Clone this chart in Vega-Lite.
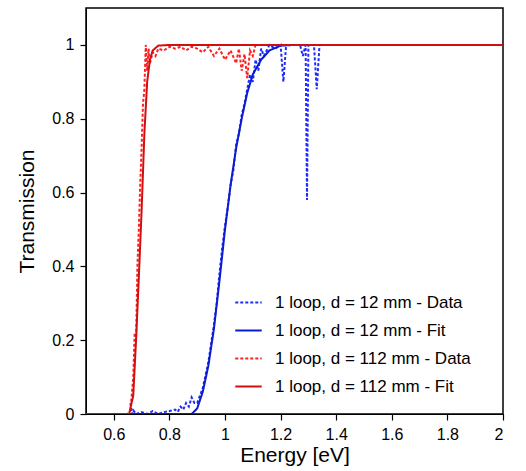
{
  "$schema": "https://vega.github.io/schema/vega-lite/v6.json",
  "width": 417,
  "height": 406,
  "autosize": {"type": "none"},
  "padding": {"left": 86, "top": 8, "right": 23, "bottom": 57},
  "background": "white",
  "config": {
    "view": {"stroke": "black", "strokeWidth": 1.5},
    "font": "Liberation Sans",
    "axis": {
      "grid": false, "domainColor": "black", "tickColor": "black", "tickSize": 6, "tickWidth": 1.2,
      "labelFont": "Liberation Sans", "labelFontSize": 16, "labelColor": "black", "labelPadding": 6,
      "titleFont": "Liberation Sans", "titleFontSize": 21, "titleFontWeight": "normal", "titleColor": "black"
    }
  },
  "data": {"values": [
    {"s": "1 loop, d = 12 mm - Data", "x": 0.66, "y": 0.03},
    {"s": "1 loop, d = 12 mm - Data", "x": 0.665, "y": 0.0},
    {"s": "1 loop, d = 12 mm - Data", "x": 0.67, "y": 0.01},
    {"s": "1 loop, d = 12 mm - Data", "x": 0.68, "y": 0},
    {"s": "1 loop, d = 12 mm - Data", "x": 0.70, "y": 0.005},
    {"s": "1 loop, d = 12 mm - Data", "x": 0.72, "y": 0},
    {"s": "1 loop, d = 12 mm - Data", "x": 0.74, "y": 0.008},
    {"s": "1 loop, d = 12 mm - Data", "x": 0.76, "y": 0},
    {"s": "1 loop, d = 12 mm - Data", "x": 0.78, "y": 0.005},
    {"s": "1 loop, d = 12 mm - Data", "x": 0.80, "y": 0.008},
    {"s": "1 loop, d = 12 mm - Data", "x": 0.82, "y": 0.012},
    {"s": "1 loop, d = 12 mm - Data", "x": 0.83, "y": 0.006},
    {"s": "1 loop, d = 12 mm - Data", "x": 0.84, "y": 0.02},
    {"s": "1 loop, d = 12 mm - Data", "x": 0.85, "y": 0.012},
    {"s": "1 loop, d = 12 mm - Data", "x": 0.86, "y": 0.03},
    {"s": "1 loop, d = 12 mm - Data", "x": 0.87, "y": 0.02},
    {"s": "1 loop, d = 12 mm - Data", "x": 0.88, "y": 0.045},
    {"s": "1 loop, d = 12 mm - Data", "x": 0.89, "y": 0.03},
    {"s": "1 loop, d = 12 mm - Data", "x": 0.90, "y": 0.03},
    {"s": "1 loop, d = 12 mm - Data", "x": 0.92, "y": 0.07},
    {"s": "1 loop, d = 12 mm - Data", "x": 0.94, "y": 0.14},
    {"s": "1 loop, d = 12 mm - Data", "x": 0.96, "y": 0.24},
    {"s": "1 loop, d = 12 mm - Data", "x": 0.97, "y": 0.3},
    {"s": "1 loop, d = 12 mm - Data", "x": 0.98, "y": 0.38},
    {"s": "1 loop, d = 12 mm - Data", "x": 0.99, "y": 0.45},
    {"s": "1 loop, d = 12 mm - Data", "x": 1.0, "y": 0.51},
    {"s": "1 loop, d = 12 mm - Data", "x": 1.01, "y": 0.56},
    {"s": "1 loop, d = 12 mm - Data", "x": 1.02, "y": 0.62},
    {"s": "1 loop, d = 12 mm - Data", "x": 1.03, "y": 0.66},
    {"s": "1 loop, d = 12 mm - Data", "x": 1.04, "y": 0.73},
    {"s": "1 loop, d = 12 mm - Data", "x": 1.05, "y": 0.76},
    {"s": "1 loop, d = 12 mm - Data", "x": 1.06, "y": 0.81},
    {"s": "1 loop, d = 12 mm - Data", "x": 1.07, "y": 0.84},
    {"s": "1 loop, d = 12 mm - Data", "x": 1.08, "y": 0.88},
    {"s": "1 loop, d = 12 mm - Data", "x": 1.09, "y": 0.92},
    {"s": "1 loop, d = 12 mm - Data", "x": 1.10, "y": 0.9},
    {"s": "1 loop, d = 12 mm - Data", "x": 1.11, "y": 0.96},
    {"s": "1 loop, d = 12 mm - Data", "x": 1.12, "y": 0.93},
    {"s": "1 loop, d = 12 mm - Data", "x": 1.13, "y": 0.99},
    {"s": "1 loop, d = 12 mm - Data", "x": 1.14, "y": 0.97},
    {"s": "1 loop, d = 12 mm - Data", "x": 1.16, "y": 1},
    {"s": "1 loop, d = 12 mm - Data", "x": 1.18, "y": 0.99},
    {"s": "1 loop, d = 12 mm - Data", "x": 1.20, "y": 1},
    {"s": "1 loop, d = 12 mm - Data", "x": 1.21, "y": 0.9},
    {"s": "1 loop, d = 12 mm - Data", "x": 1.22, "y": 1},
    {"s": "1 loop, d = 12 mm - Data", "x": 1.27, "y": 1},
    {"s": "1 loop, d = 12 mm - Data", "x": 1.28, "y": 0.97},
    {"s": "1 loop, d = 12 mm - Data", "x": 1.29, "y": 1},
    {"s": "1 loop, d = 12 mm - Data", "x": 1.295, "y": 0.58},
    {"s": "1 loop, d = 12 mm - Data", "x": 1.30, "y": 1},
    {"s": "1 loop, d = 12 mm - Data", "x": 1.32, "y": 1},
    {"s": "1 loop, d = 12 mm - Data", "x": 1.33, "y": 0.88},
    {"s": "1 loop, d = 12 mm - Data", "x": 1.34, "y": 1},
    {"s": "1 loop, d = 12 mm - Data", "x": 2.0, "y": 1},

    {"s": "1 loop, d = 12 mm - Fit", "x": 0.5, "y": 0},
    {"s": "1 loop, d = 12 mm - Fit", "x": 0.88, "y": 0},
    {"s": "1 loop, d = 12 mm - Fit", "x": 0.9, "y": 0.015},
    {"s": "1 loop, d = 12 mm - Fit", "x": 0.92, "y": 0.06},
    {"s": "1 loop, d = 12 mm - Fit", "x": 0.94, "y": 0.13},
    {"s": "1 loop, d = 12 mm - Fit", "x": 0.96, "y": 0.23},
    {"s": "1 loop, d = 12 mm - Fit", "x": 0.98, "y": 0.36},
    {"s": "1 loop, d = 12 mm - Fit", "x": 1.0, "y": 0.5},
    {"s": "1 loop, d = 12 mm - Fit", "x": 1.02, "y": 0.62},
    {"s": "1 loop, d = 12 mm - Fit", "x": 1.04, "y": 0.72},
    {"s": "1 loop, d = 12 mm - Fit", "x": 1.06, "y": 0.8},
    {"s": "1 loop, d = 12 mm - Fit", "x": 1.08, "y": 0.87},
    {"s": "1 loop, d = 12 mm - Fit", "x": 1.10, "y": 0.92},
    {"s": "1 loop, d = 12 mm - Fit", "x": 1.13, "y": 0.96},
    {"s": "1 loop, d = 12 mm - Fit", "x": 1.16, "y": 0.985},
    {"s": "1 loop, d = 12 mm - Fit", "x": 1.2, "y": 0.998},
    {"s": "1 loop, d = 12 mm - Fit", "x": 1.25, "y": 1},
    {"s": "1 loop, d = 12 mm - Fit", "x": 2.0, "y": 1},

    {"s": "1 loop, d = 112 mm - Data", "x": 0.5, "y": 0},
    {"s": "1 loop, d = 112 mm - Data", "x": 0.65, "y": 0},
    {"s": "1 loop, d = 112 mm - Data", "x": 0.66, "y": 0.01},
    {"s": "1 loop, d = 112 mm - Data", "x": 0.67, "y": 0.1},
    {"s": "1 loop, d = 112 mm - Data", "x": 0.675, "y": 0.22},
    {"s": "1 loop, d = 112 mm - Data", "x": 0.68, "y": 0.2},
    {"s": "1 loop, d = 112 mm - Data", "x": 0.685, "y": 0.4},
    {"s": "1 loop, d = 112 mm - Data", "x": 0.69, "y": 0.5},
    {"s": "1 loop, d = 112 mm - Data", "x": 0.695, "y": 0.62},
    {"s": "1 loop, d = 112 mm - Data", "x": 0.70, "y": 0.72},
    {"s": "1 loop, d = 112 mm - Data", "x": 0.705, "y": 0.84},
    {"s": "1 loop, d = 112 mm - Data", "x": 0.71, "y": 0.88},
    {"s": "1 loop, d = 112 mm - Data", "x": 0.715, "y": 1.0},
    {"s": "1 loop, d = 112 mm - Data", "x": 0.72, "y": 0.93},
    {"s": "1 loop, d = 112 mm - Data", "x": 0.725, "y": 0.99},
    {"s": "1 loop, d = 112 mm - Data", "x": 0.73, "y": 0.95},
    {"s": "1 loop, d = 112 mm - Data", "x": 0.74, "y": 0.98},
    {"s": "1 loop, d = 112 mm - Data", "x": 0.75, "y": 0.97},
    {"s": "1 loop, d = 112 mm - Data", "x": 0.76, "y": 0.99},
    {"s": "1 loop, d = 112 mm - Data", "x": 0.78, "y": 0.985},
    {"s": "1 loop, d = 112 mm - Data", "x": 0.80, "y": 0.995},
    {"s": "1 loop, d = 112 mm - Data", "x": 0.82, "y": 0.99},
    {"s": "1 loop, d = 112 mm - Data", "x": 0.84, "y": 0.995},
    {"s": "1 loop, d = 112 mm - Data", "x": 0.86, "y": 0.985},
    {"s": "1 loop, d = 112 mm - Data", "x": 0.88, "y": 0.995},
    {"s": "1 loop, d = 112 mm - Data", "x": 0.90, "y": 0.99},
    {"s": "1 loop, d = 112 mm - Data", "x": 0.92, "y": 0.98},
    {"s": "1 loop, d = 112 mm - Data", "x": 0.94, "y": 0.995},
    {"s": "1 loop, d = 112 mm - Data", "x": 0.96, "y": 0.97},
    {"s": "1 loop, d = 112 mm - Data", "x": 0.98, "y": 0.99},
    {"s": "1 loop, d = 112 mm - Data", "x": 1.0, "y": 0.96},
    {"s": "1 loop, d = 112 mm - Data", "x": 1.02, "y": 0.985},
    {"s": "1 loop, d = 112 mm - Data", "x": 1.04, "y": 0.95},
    {"s": "1 loop, d = 112 mm - Data", "x": 1.05, "y": 0.99},
    {"s": "1 loop, d = 112 mm - Data", "x": 1.06, "y": 0.93},
    {"s": "1 loop, d = 112 mm - Data", "x": 1.07, "y": 0.975},
    {"s": "1 loop, d = 112 mm - Data", "x": 1.08, "y": 0.91},
    {"s": "1 loop, d = 112 mm - Data", "x": 1.09, "y": 0.985},
    {"s": "1 loop, d = 112 mm - Data", "x": 1.10, "y": 0.97},
    {"s": "1 loop, d = 112 mm - Data", "x": 1.11, "y": 1},
    {"s": "1 loop, d = 112 mm - Data", "x": 2.0, "y": 1},

    {"s": "1 loop, d = 112 mm - Fit", "x": 0.5, "y": 0},
    {"s": "1 loop, d = 112 mm - Fit", "x": 0.655, "y": 0},
    {"s": "1 loop, d = 112 mm - Fit", "x": 0.67, "y": 0.05},
    {"s": "1 loop, d = 112 mm - Fit", "x": 0.68, "y": 0.2},
    {"s": "1 loop, d = 112 mm - Fit", "x": 0.69, "y": 0.37},
    {"s": "1 loop, d = 112 mm - Fit", "x": 0.70, "y": 0.55},
    {"s": "1 loop, d = 112 mm - Fit", "x": 0.71, "y": 0.76},
    {"s": "1 loop, d = 112 mm - Fit", "x": 0.72, "y": 0.9},
    {"s": "1 loop, d = 112 mm - Fit", "x": 0.73, "y": 0.96},
    {"s": "1 loop, d = 112 mm - Fit", "x": 0.74, "y": 0.985},
    {"s": "1 loop, d = 112 mm - Fit", "x": 0.76, "y": 0.998},
    {"s": "1 loop, d = 112 mm - Fit", "x": 0.8, "y": 1},
    {"s": "1 loop, d = 112 mm - Fit", "x": 2.0, "y": 1}
  ]},
  "mark": {"type": "line", "strokeWidth": 2, "clip": true},
  "encoding": {
    "x": {"field": "x", "type": "quantitative", "title": "Energy [eV]",
      "scale": {"domain": [0.5, 2], "nice": false, "zero": false},
      "axis": {"values": [0.6, 0.8, 1, 1.2, 1.4, 1.6, 1.8, 2], "format": "~g", "titlePadding": 2}},
    "y": {"field": "y", "type": "quantitative", "title": "Transmission",
      "scale": {"domain": [0, 1.1], "nice": false},
      "axis": {"values": [0, 0.2, 0.4, 0.6, 0.8, 1], "format": "~g", "titlePadding": 14}},
    "order": {"field": "x", "type": "quantitative"},
    "color": {"field": "s", "type": "nominal",
      "scale": {"domain": ["1 loop, d = 12 mm - Data", "1 loop, d = 12 mm - Fit", "1 loop, d = 112 mm - Data", "1 loop, d = 112 mm - Fit"],
        "range": ["#1f2bff", "#0a1ccf", "#ff2020", "#d01010"]},
      "legend": {"title": null, "orient": "none", "legendX": 148, "legendY": 280, "labelFontSize": 17, "labelColor": "black", "labelLimit": 0,
        "symbolType": "stroke", "symbolSize": 700, "symbolStrokeWidth": 2, "rowPadding": 5, "labelOffset": 12}},
    "strokeDash": {"field": "s", "type": "nominal",
      "scale": {"domain": ["1 loop, d = 12 mm - Data", "1 loop, d = 12 mm - Fit", "1 loop, d = 112 mm - Data", "1 loop, d = 112 mm - Fit"],
        "range": [[3, 2], [1, 0], [3, 2], [1, 0]]},
      "legend": null}
  }
}
